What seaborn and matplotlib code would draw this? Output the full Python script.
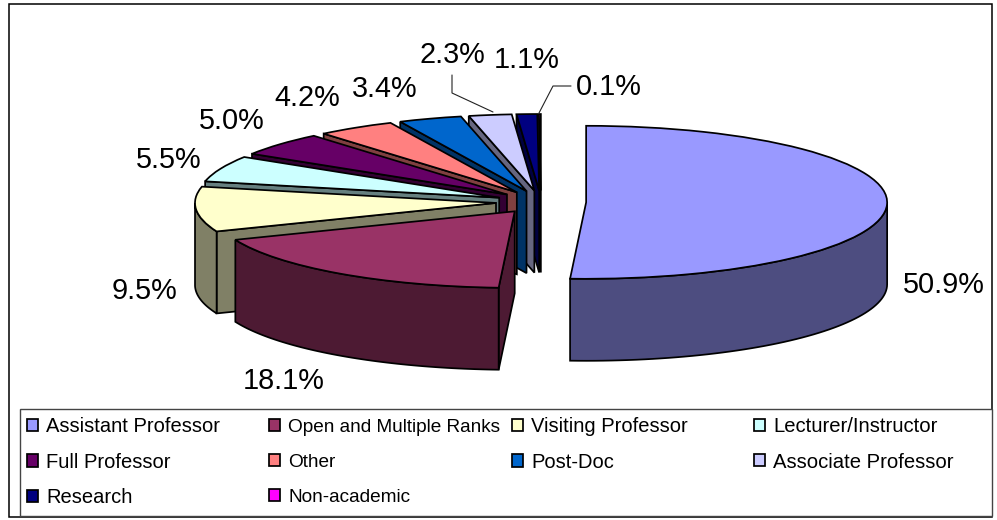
import numpy as np
import matplotlib
matplotlib.use("Agg")
import matplotlib.pyplot as plt
from matplotlib.patches import Polygon, Rectangle
from matplotlib.colors import to_rgb
import seaborn as sns

categories = ["Assistant Professor", "Open and Multiple Ranks", "Visiting Professor",
              "Lecturer/Instructor", "Full Professor", "Other", "Post-Doc",
              "Associate Professor", "Research", "Non-academic"]
shares = [50.9, 18.1, 9.5, 5.5, 5.0, 4.2, 3.4, 2.3, 1.1, 0.1]
colors = ["#9999FF", "#993366", "#FFFFCC", "#CCFFFF", "#660066",
          "#FF8080", "#0066CC", "#CCCCFF", "#000080", "#FF00FF"]

sns.set_theme(style="white")
plt.rcParams["font.family"] = ["Liberation Sans", "DejaVu Sans"]

W, H = 997, 520
CX, CY, RX, RY, DEPTH = 541, 202, 301, 76.5, 82
LW = 1.25

fig = plt.figure(figsize=(W / 100, H / 100), dpi=100, facecolor="white")
ax = fig.add_axes([0, 0, 1, 1])
wedges, _ = ax.pie(shares, explode=[0.15] * len(shares), startangle=90,
                   counterclock=False, colors=colors,
                   wedgeprops=dict(edgecolor="black", linewidth=LW))
ax.set_aspect("auto")
ax.set_xlim(-CX / RX, (W - CX) / RX)
ax.set_ylim(-(H - CY) / RY, CY / RY)
ax.axis("off")
dz = DEPTH / RY


def arc(w, a0, a1, n=60):
    t = np.radians(np.linspace(a0, a1, n))
    return np.c_[w.center[0] + w.r * np.cos(t), w.center[1] + w.r * np.sin(t)]


# painter's order: slices at the back first, the front slices last
for i in range(len(wedges) - 1, -1, -1):
    w = wedges[i]
    z = 10 + 3 * (len(wedges) - i)
    w.set_zorder(z + 2)
    dark = tuple(c * 0.5 for c in to_rgb(colors[i]))
    # cut face on the clockwise start edge, for slices on the left half
    if i > 0:
        p = arc(w, w.theta2, w.theta2, 1)[0]
        c = np.array(w.center)
        ax.add_patch(Polygon([c, p, p - [0, dz], c - [0, dz]], closed=True,
                             fc=dark, ec="black", lw=LW, zorder=z))
    # outer wall: only the part of the rim facing the viewer
    a0, a1 = min(w.theta1, w.theta2), max(w.theta1, w.theta2)
    for k in (-360, 0, 360):
        b0, b1 = max(a0, 180 + k), min(a1, 360 + k)
        if b1 > b0:
            rim = arc(w, b0, b1)
            ax.add_patch(Polygon(np.r_[rim, (rim - [0, dz])[::-1]], closed=True,
                                 fc=dark, ec="black", lw=LW, zorder=z + 1))

# data labels
label_px = [(944, 285), (284, 381), (144, 291), (169, 160), (232, 121),
            (307, 98), (385, 89), (452, 55), (527, 60), (609, 87)]
for v, (x, y) in zip(shares, label_px):
    fig.text(x / W, 1 - y / H, f"{v:.1f}%", fontsize=20.8, color="black",
             ha="center", va="center", zorder=50)

# leader lines
for pts in ([(452, 75), (452, 93), (493, 112)], [(571, 86), (553, 86), (539, 113)]):
    xs, ys = zip(*pts)
    fig.add_artist(plt.Line2D(np.array(xs) / W, 1 - np.array(ys) / H, color="#222222", lw=0.8))

# outer chart frame and legend frame
fig.add_artist(Rectangle((9 / W, 1 - 517 / H), (992 - 9) / W, (517 - 4) / H, transform=fig.transFigure,
                         fill=False, ec="black", lw=1.1))
fig.add_artist(Rectangle((20 / W, 1 - 516 / H), (992 - 20) / W, (516 - 409) / H, transform=fig.transFigure,
                         fc="white", ec="#444444", lw=1.0, zorder=5))

# legend: four columns at Excel's even spacing
col_x = [27, 269, 512, 754]
col_font = [14.5, 13.7, 14.5, 14.6]
col_step = [36, 37, 36, 36]
col_top = [417.5, 418.5, 417.5, 417.5]
for c, (x, fs, step, top) in enumerate(zip(col_x, col_font, col_step, col_top)):
    idx = list(range(c, len(categories), 4))
    px = fs * 100 / 72
    handles = [Rectangle((0, 0), 1, 1, fc=colors[j], ec="black", lw=LW) for j in idx]
    leg = fig.legend(handles, [categories[j] for j in idx], loc="upper left",
                     bbox_to_anchor=(x / W, 1 - top / H), frameon=False,
                     fontsize=fs, handlelength=11.2 / px, handleheight=11.2 / px,
                     handletextpad=8 / px, labelspacing=step / px - 0.985,
                     borderpad=0, borderaxespad=0, labelcolor="black")
    leg.set_zorder(60)

fig.savefig("out.png", dpi=100, facecolor="white")
